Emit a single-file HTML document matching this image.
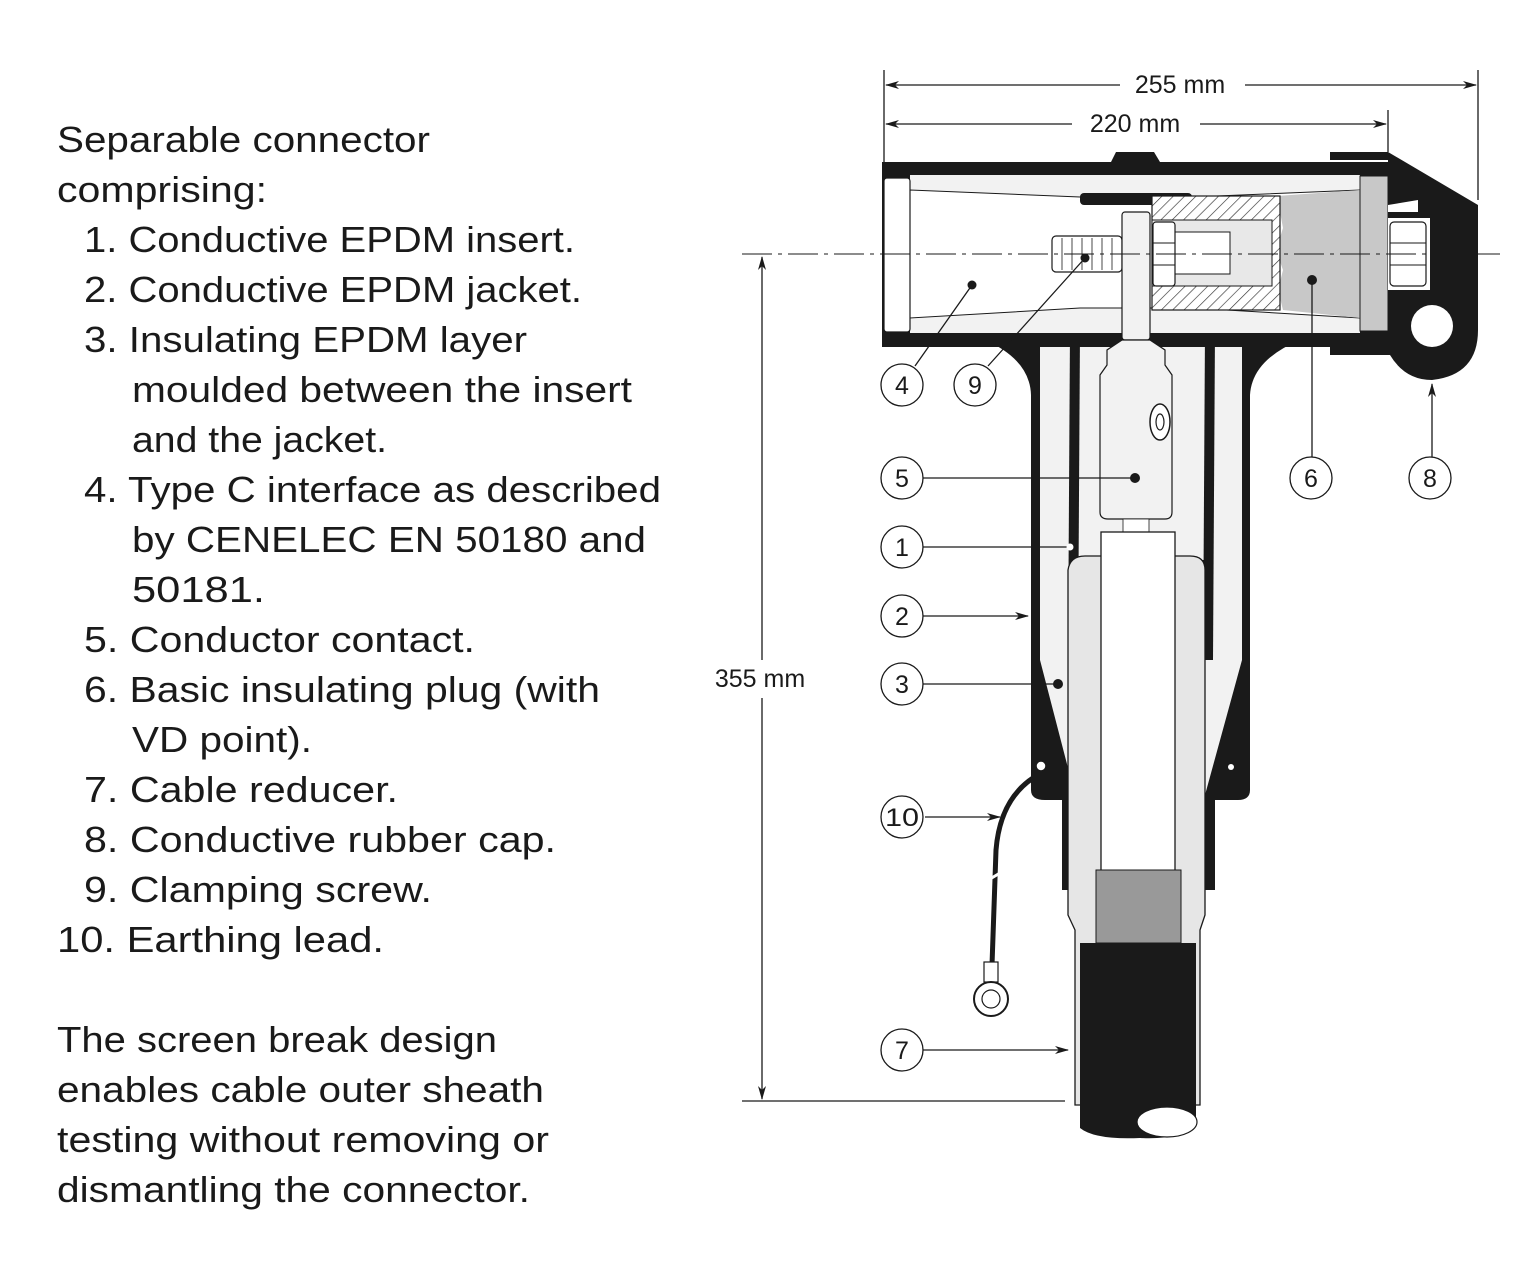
<!DOCTYPE html>
<html><head><meta charset="utf-8"><style>
html,body{margin:0;padding:0;background:#fff;}
svg{display:block;}
text{font-family:"Liberation Sans",sans-serif;fill:#1a1a1a;}
.t{font-size:36px;}
.s{font-size:25px;}
</style></head><body>
<svg width="1536" height="1263" viewBox="0 0 1536 1263" xmlns="http://www.w3.org/2000/svg">
<defs>
<pattern id="h" width="8" height="8" patternUnits="userSpaceOnUse" patternTransform="rotate(45)">
<rect width="8" height="8" fill="#fff"/><line x1="0" y1="0" x2="0" y2="8" stroke="#333" stroke-width="1.3"/></pattern>
<marker id="a" markerWidth="14" markerHeight="8" refX="13" refY="4" orient="auto" markerUnits="userSpaceOnUse"><path d="M0,0 L14,4 L0,8 L4,4z" fill="#1a1a1a"/></marker>
</defs>
<!-- left text -->
<g class="t">
<text x="57" y="152" textLength="373" lengthAdjust="spacingAndGlyphs">Separable connector</text>
<text x="57" y="202" textLength="210" lengthAdjust="spacingAndGlyphs">comprising:</text>
<text x="84" y="252" textLength="491" lengthAdjust="spacingAndGlyphs">1. Conductive EPDM insert.</text>
<text x="84" y="302" textLength="498" lengthAdjust="spacingAndGlyphs">2. Conductive EPDM jacket.</text>
<text x="84" y="352" textLength="443" lengthAdjust="spacingAndGlyphs">3. Insulating EPDM layer</text>
<text x="132" y="402" textLength="500" lengthAdjust="spacingAndGlyphs">moulded between the insert</text>
<text x="132" y="452" textLength="255" lengthAdjust="spacingAndGlyphs">and the jacket.</text>
<text x="84" y="502" textLength="577" lengthAdjust="spacingAndGlyphs">4. Type C interface as described</text>
<text x="132" y="552" textLength="514" lengthAdjust="spacingAndGlyphs">by CENELEC EN 50180 and</text>
<text x="132" y="602" textLength="133" lengthAdjust="spacingAndGlyphs">50181.</text>
<text x="84" y="652" textLength="391" lengthAdjust="spacingAndGlyphs">5. Conductor contact.</text>
<text x="84" y="702" textLength="516" lengthAdjust="spacingAndGlyphs">6. Basic insulating plug (with</text>
<text x="132" y="752" textLength="180" lengthAdjust="spacingAndGlyphs">VD point).</text>
<text x="84" y="802" textLength="314" lengthAdjust="spacingAndGlyphs">7. Cable reducer.</text>
<text x="84" y="852" textLength="472" lengthAdjust="spacingAndGlyphs">8. Conductive rubber cap.</text>
<text x="84" y="902" textLength="348" lengthAdjust="spacingAndGlyphs">9. Clamping screw.</text>
<text x="57" y="952" textLength="327" lengthAdjust="spacingAndGlyphs">10. Earthing lead.</text>
<text x="57" y="1052" textLength="440" lengthAdjust="spacingAndGlyphs">The screen break design</text>
<text x="57" y="1102" textLength="487" lengthAdjust="spacingAndGlyphs">enables cable outer sheath</text>
<text x="57" y="1152" textLength="492" lengthAdjust="spacingAndGlyphs">testing without removing or</text>
<text x="57" y="1202" textLength="473" lengthAdjust="spacingAndGlyphs">dismantling the connector.</text>
</g>

<!-- dimension lines -->
<g stroke="#1a1a1a" stroke-width="1.3" fill="none">
<line x1="884" y1="70" x2="884" y2="165"/>
<line x1="1478" y1="70" x2="1478" y2="200"/>
<line x1="1388" y1="110" x2="1388" y2="152"/>
<line x1="1120" y1="85" x2="886" y2="85" marker-end="url(#a)"/>
<line x1="1245" y1="85" x2="1476" y2="85" marker-end="url(#a)"/>
<line x1="1072" y1="124" x2="886" y2="124" marker-end="url(#a)"/>
<line x1="1200" y1="124" x2="1386" y2="124" marker-end="url(#a)"/>
<line x1="762" y1="660" x2="762" y2="257" marker-end="url(#a)"/>
<line x1="762" y1="698" x2="762" y2="1099" marker-end="url(#a)"/>
<line x1="742" y1="1101" x2="1065" y2="1101"/>
</g>
<text class="s" x="1180" y="93" text-anchor="middle">255 mm</text>
<text class="s" x="1135" y="132" text-anchor="middle">220 mm</text>
<text class="s" x="760" y="687" text-anchor="middle">355 mm</text>

<!-- stem outer black -->
<path d="M985,340 Q1030,360 1031,395 L1031,790 Q1031,800 1045,800 L1062,800 L1062,890 L1078,890 L1078,560 L1200,560 L1200,890 L1215,890 L1215,800 L1238,800 Q1250,800 1250,790 L1250,395 Q1252,360 1300,340 Z" fill="#1a1a1a"/>
<!-- stem inner light -->
<path d="M1040,335 Q1040,340 1040,345 L1040,660 L1075,795 L1075,560 L1205,560 L1205,795 L1242,660 L1242,345 L1242,335 Z" fill="#f2f2f2"/>
<!-- insert (1) black walls -->
<path d="M1070,330 L1080,330 L1078,660 L1068,660 Z" fill="#1a1a1a"/>
<path d="M1205,330 L1215,330 L1213,660 L1203,660 Z" fill="#1a1a1a"/>

<!-- housing -->
<rect x="882" y="162" width="506" height="185" fill="#1a1a1a"/>
<path d="M1111,162 L1116,152 L1154,152 L1160,162 Z" fill="#1a1a1a"/>
<path d="M910,175 L1360,175 L1360,333 L910,333 Z" fill="#f2f2f2"/>
<path d="M1030,333 L1080,333 L1070,345 L1040,345 Z" fill="#1a1a1a"/>
<path d="M910,190 L1080,197 L1193,197 L1360,190 L1360,318 L1193,308 L1080,308 L910,318 Z" fill="#fff" stroke="#1a1a1a" stroke-width="1"/>
<rect x="1080" y="193" width="112" height="12" rx="4" fill="#1a1a1a"/>
<rect x="884" y="178" width="26" height="154" rx="3" fill="#fff" stroke="#1a1a1a" stroke-width="1.2"/>
<!-- plug 6 -->
<path d="M1277,196 L1360,190 L1360,318 L1283,310 L1278,290 L1283,270 L1276,250 L1283,228 Z" fill="#c8c8c8"/>
<rect x="1360" y="176" width="28" height="155" fill="#c8c8c8" stroke="#1a1a1a" stroke-width="1"/>
<!-- hatched contact -->
<rect x="1152" y="196" width="128" height="114" fill="url(#h)" stroke="#1a1a1a" stroke-width="1.2"/>
<rect x="1152" y="220" width="120" height="66" fill="#e8e8e8" stroke="#1a1a1a" stroke-width="1"/>
<rect x="1170" y="232" width="60" height="42" fill="#fff" stroke="#1a1a1a" stroke-width="1"/>
<rect x="1153" y="222" width="22" height="64" rx="3" fill="#fff" stroke="#1a1a1a" stroke-width="1.2"/>
<line x1="1153" y1="243" x2="1175" y2="243" stroke="#1a1a1a"/><line x1="1153" y1="265" x2="1175" y2="265" stroke="#1a1a1a"/>
<!-- threaded screw -->
<rect x="1052" y="236" width="70" height="36" rx="4" fill="#fff" stroke="#1a1a1a" stroke-width="1.2"/>
<g stroke="#1a1a1a" stroke-width="0.8"><line x1="1062" y1="238" x2="1062" y2="270"/><line x1="1072" y1="238" x2="1072" y2="270"/><line x1="1082" y1="238" x2="1082" y2="270"/><line x1="1092" y1="238" x2="1092" y2="270"/><line x1="1102" y1="238" x2="1102" y2="270"/><line x1="1112" y1="238" x2="1112" y2="270"/></g>
<!-- rod -->
<rect x="1122" y="212" width="28" height="128" rx="3" fill="#f2f2f2" stroke="#1a1a1a" stroke-width="1.2"/>
<!-- contact 5 -->
<path d="M1122,340 L1150,340 L1165,350 L1165,365 L1172,375 L1172,512 Q1172,519 1165,519 L1108,519 Q1100,519 1100,512 L1100,375 L1107,365 L1107,350 Z" fill="#f2f2f2" stroke="#1a1a1a" stroke-width="1.2"/>
<ellipse cx="1160" cy="422" rx="10" ry="18" fill="#fff" stroke="#1a1a1a" stroke-width="1.5"/>
<ellipse cx="1160" cy="422" rx="4" ry="8" fill="none" stroke="#1a1a1a" stroke-width="1.2"/>
<rect x="1123" y="519" width="26" height="13" fill="#fff" stroke="#1a1a1a" stroke-width="0.8"/>
<!-- cable reducer -->
<path d="M1075,1105 L1075,930 L1068,915 L1068,570 Q1070,556 1085,556 L1190,556 Q1205,556 1205,570 L1205,915 L1200,930 L1200,1105 Z" fill="#e6e6e6" stroke="#1a1a1a" stroke-width="1.3"/>
<rect x="1101" y="532" width="74" height="340" fill="#fff" stroke="#1a1a1a" stroke-width="1.3"/>
<rect x="1096" y="870" width="85" height="73" fill="#999" stroke="#1a1a1a" stroke-width="1"/>
<path d="M1080,943 L1196,943 L1196,1125 Q1180,1140 1140,1138 Q1095,1140 1080,1128 Z" fill="#1a1a1a"/>
<ellipse cx="1167" cy="1122" rx="30" ry="15" fill="#fff" stroke="#1a1a1a" stroke-width="1.2"/>
<!-- earthing lead -->
<circle cx="1041" cy="766" r="5" fill="#fff" stroke="#1a1a1a" stroke-width="1.5"/>
<circle cx="1231" cy="767" r="3" fill="#fff"/>
<path d="M1033,778 Q1000,800 996,850 L992,965" fill="none" stroke="#1a1a1a" stroke-width="5"/>
<line x1="980" y1="885" x2="1005" y2="870" stroke="#fff" stroke-width="3"/>
<rect x="984" y="962" width="14" height="20" fill="#fff" stroke="#1a1a1a" stroke-width="1.2"/>
<circle cx="991" cy="999" r="17" fill="#fff" stroke="#1a1a1a" stroke-width="2"/>
<circle cx="991" cy="999" r="9" fill="#fff" stroke="#1a1a1a" stroke-width="1.2"/>

<!-- cap 8 -->
<path d="M1330,152 L1388,152 L1478,205 L1478,330 Q1478,375 1432,380 Q1405,380 1390,355 L1330,355 L1330,340 L1388,340 L1388,160 L1330,160 Z" fill="#1a1a1a"/>
<path d="M1388,205 L1418,200 L1418,212 L1388,212 Z" fill="#fff"/>
<rect x="1388" y="218" width="42" height="72" fill="#fff"/>
<rect x="1390" y="222" width="36" height="64" rx="4" fill="#fff" stroke="#1a1a1a" stroke-width="1.2"/>
<line x1="1390" y1="243" x2="1426" y2="243" stroke="#1a1a1a"/><line x1="1390" y1="265" x2="1426" y2="265" stroke="#1a1a1a"/>
<circle cx="1432" cy="326" r="21" fill="#fff"/>

<!-- centerline -->
<line x1="742" y1="254" x2="1500" y2="254" stroke="#1a1a1a" stroke-width="1" stroke-dasharray="30,6,4,6"/>

<!-- leaders -->
<g stroke="#1a1a1a" stroke-width="1.3" fill="none">
<line x1="915" y1="366" x2="972" y2="285"/>
<line x1="988" y1="366" x2="1085" y2="258"/>
<line x1="923" y1="478" x2="1135" y2="478"/>
<line x1="923" y1="547" x2="1070" y2="547"/>
<line x1="923" y1="616" x2="1028" y2="616" marker-end="url(#a)"/>
<line x1="923" y1="684" x2="1058" y2="684"/>
<line x1="925" y1="817" x2="1000" y2="817" marker-end="url(#a)"/>
<line x1="923" y1="1050" x2="1068" y2="1050" marker-end="url(#a)"/>
<line x1="1312" y1="457" x2="1312" y2="280"/>
<line x1="1432" y1="457" x2="1432" y2="384" marker-end="url(#a)"/>
</g>
<g fill="#1a1a1a">
<circle cx="972" cy="285" r="4.5"/><circle cx="1085" cy="258" r="4.5"/><circle cx="1135" cy="478" r="5"/>
<circle cx="1058" cy="684" r="5"/><circle cx="1312" cy="280" r="5"/>
</g>
<circle cx="1070" cy="547" r="3.5" fill="#fff"/>
<g fill="#fff" stroke="#1a1a1a" stroke-width="1.3">
<circle cx="902" cy="385" r="21"/><circle cx="975" cy="385" r="21"/><circle cx="902" cy="478" r="21"/>
<circle cx="902" cy="547" r="21"/><circle cx="902" cy="616" r="21"/><circle cx="902" cy="684" r="21"/>
<circle cx="902" cy="817" r="21"/><circle cx="902" cy="1050" r="21"/><circle cx="1311" cy="478" r="21"/><circle cx="1430" cy="478" r="21"/>
</g>
<g class="s" text-anchor="middle">
<text x="902" y="394">4</text><text x="975" y="394">9</text><text x="902" y="487">5</text>
<text x="902" y="556">1</text><text x="902" y="625">2</text><text x="902" y="693">3</text>
<text x="902" y="826" textLength="34" lengthAdjust="spacingAndGlyphs">10</text><text x="902" y="1059">7</text>
<text x="1311" y="487">6</text><text x="1430" y="487">8</text>
</g>
</svg>
</body></html>
